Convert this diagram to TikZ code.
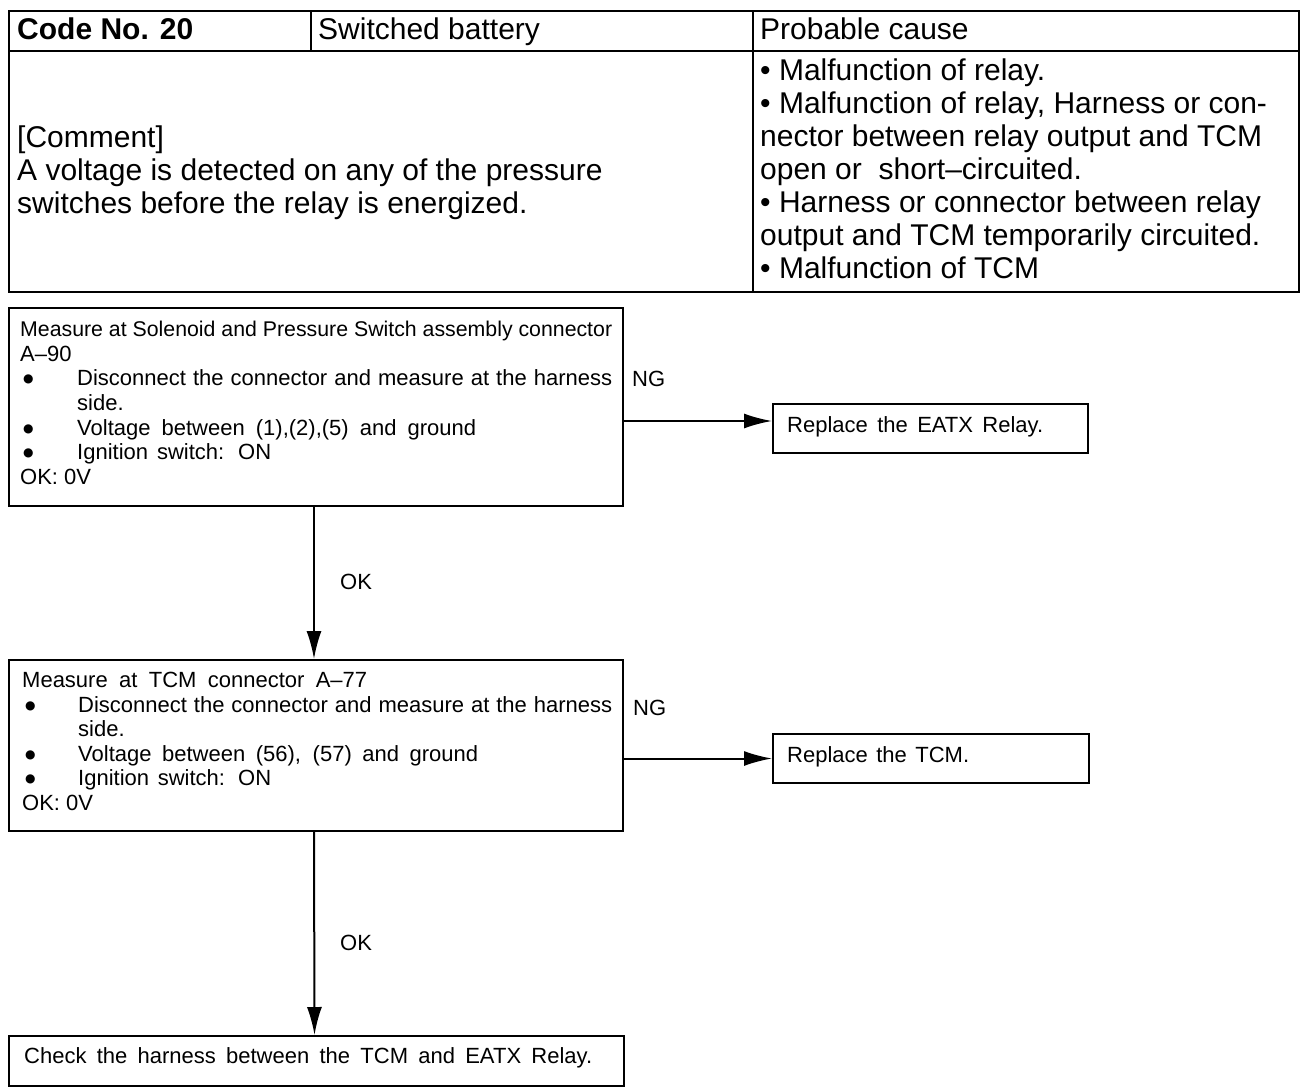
\documentclass[tikz,border=0pt]{standalone}
\usepackage{fontspec}
\setmainfont{Liberation Sans}
\newfontfamily\dejavu{DejaVu Sans}
\usetikzlibrary{arrows.meta}
\newcommand{\fitl}[2]{\makebox[#1][s]{#2}}
\newcommand{\bul}[1]{\makebox[#1][l]{\hspace{3pt}\raisebox{3pt}{\dejavu\fontsize{12}{12}\selectfont ●}}}
\begin{document}
\begin{tikzpicture}[x=1pt,y=-1pt,
 frame/.style={draw, line width=2pt, inner sep=0pt, anchor=north west},
 big/.style={font=\fontsize{30}{33}\selectfont, anchor=base west, inner sep=0pt},
 bigb/.style={font=\bfseries\fontsize{30}{33}\selectfont, anchor=base west, inner sep=0pt},
 sm/.style={font=\fontsize{22}{24}\selectfont, anchor=base west, inner sep=0pt},
 conn/.style={line width=2pt, -{Latex[length=28pt,width=15pt]}}]
\useasboundingbox[fill=white] (0,0) rectangle (1312,1092);
% table
\node[frame, minimum width=302, minimum height=40] (hcode) at (8,10) {};
\node[frame, minimum width=442, minimum height=40] (hsw) at (310,10) {};
\node[frame, minimum width=546, minimum height=40] (hpc) at (752,10) {};
\node[frame, minimum width=744, minimum height=241] (ccom) at (8,50) {};
\node[frame, minimum width=546, minimum height=241] (ccause) at (752,50) {};
\node[bigb] (t1) at (17,39) {Code No. 20};
\node[big] (t2) at (318,39) {Switched battery};
\node[big] (t3) at (760,39) {Probable cause};
\node[big] (c1) at (17,147) {[Comment]};
\node[big] (c2) at (17,180) {A voltage is detected on any of the pressure};
\node[big] (c3) at (17,213) {switches before the relay is energized.};
\node[big] (p1) at (760,80) {\textbullet{} Malfunction of relay.};
\node[big] (p2) at (760,113) {\textbullet{} Malfunction of relay, Harness or con-};
\node[big] (p3) at (760,146) {nector between relay output and TCM};
\node[big] (p4) at (760,179) {open or \ short–circuited.};
\node[big] (p5) at (760,212) {\textbullet{} Harness or connector between relay};
\node[big] (p6) at (760,245) {output and TCM temporarily circuited.};
\node[big] (p7) at (760,278) {\textbullet{} Malfunction of TCM};
% boxes
\node[frame, minimum width=614, minimum height=198] (b1) at (8,307) {};
\node[frame, minimum width=315, minimum height=49] (b2) at (772,403) {};
\node[frame, minimum width=614, minimum height=171] (b3) at (8,659) {};
\node[frame, minimum width=316, minimum height=49] (b4) at (772,733) {};
\node[frame, minimum width=615, minimum height=50] (b5) at (8,1035) {};
% box 1 text
\node[sm, font=\fontsize{21.3}{24}\selectfont] (a1) at (20,336) {\fitl{592pt}{Measure at Solenoid and Pressure Switch assembly connector}};
\node[sm] (a2) at (20,361) {A–90};
\node[sm] (a3) at (20,385) {\bul{57pt}\fitl{535pt}{Disconnect the connector and measure at the harness}};
\node[sm] (a4) at (20,410) {\hspace*{57pt}side.};
\node[sm] (a5) at (20,435) {\bul{57pt}\fitl{399pt}{Voltage between (1),(2),(5) and ground}};
\node[sm] (a6) at (20,459) {\bul{57pt}\fitl{194pt}{Ignition switch: ON}};
\node[sm] (a7) at (20,484) {OK: 0V};
% box 2 text
\node[sm] (r1) at (787,432) {\fitl{256pt}{Replace the EATX Relay.}};
% box 3 text
\node[sm] (m1) at (22,687) {\fitl{345pt}{Measure at TCM connector A–77}};
\node[sm] (m2) at (22,712) {\bul{56pt}\fitl{534pt}{Disconnect the connector and measure at the harness}};
\node[sm] (m3) at (22,736) {\hspace*{56pt}side.};
\node[sm] (m4) at (22,761) {\bul{56pt}\fitl{400pt}{Voltage between (56), (57) and ground}};
\node[sm] (m5) at (22,785) {\bul{56pt}\fitl{193pt}{Ignition switch: ON}};
\node[sm] (m6) at (22,810) {OK: 0V};
% box 4, 5 text
\node[sm] (r2) at (787,762) {\fitl{182pt}{Replace the TCM.}};
\node[sm] (k1) at (24,1063) {\fitl{568pt}{Check the harness between the TCM and EATX Relay.}};
% labels
\node[sm] (ng1) at (632,386) {NG};
\node[sm] (ng2) at (633,715) {NG};
\node[sm] (ok1) at (340,589) {OK};
\node[sm] (ok2) at (340,950) {OK};
% connectors
\coordinate (e2) at ([yshift=7.5pt]b2.west);
\draw[conn] (b1.east |- e2) -- (e2);
\draw[conn] (b3.east |- b4.west) -- (b4.west);
\draw[conn] ([xshift=-2pt]b1.south) -- ([xshift=-2pt]b3.north);
\draw[conn] ([xshift=-2pt]b3.south) -- ([xshift=-2pt]b5.north);
\end{tikzpicture}
\end{document}
